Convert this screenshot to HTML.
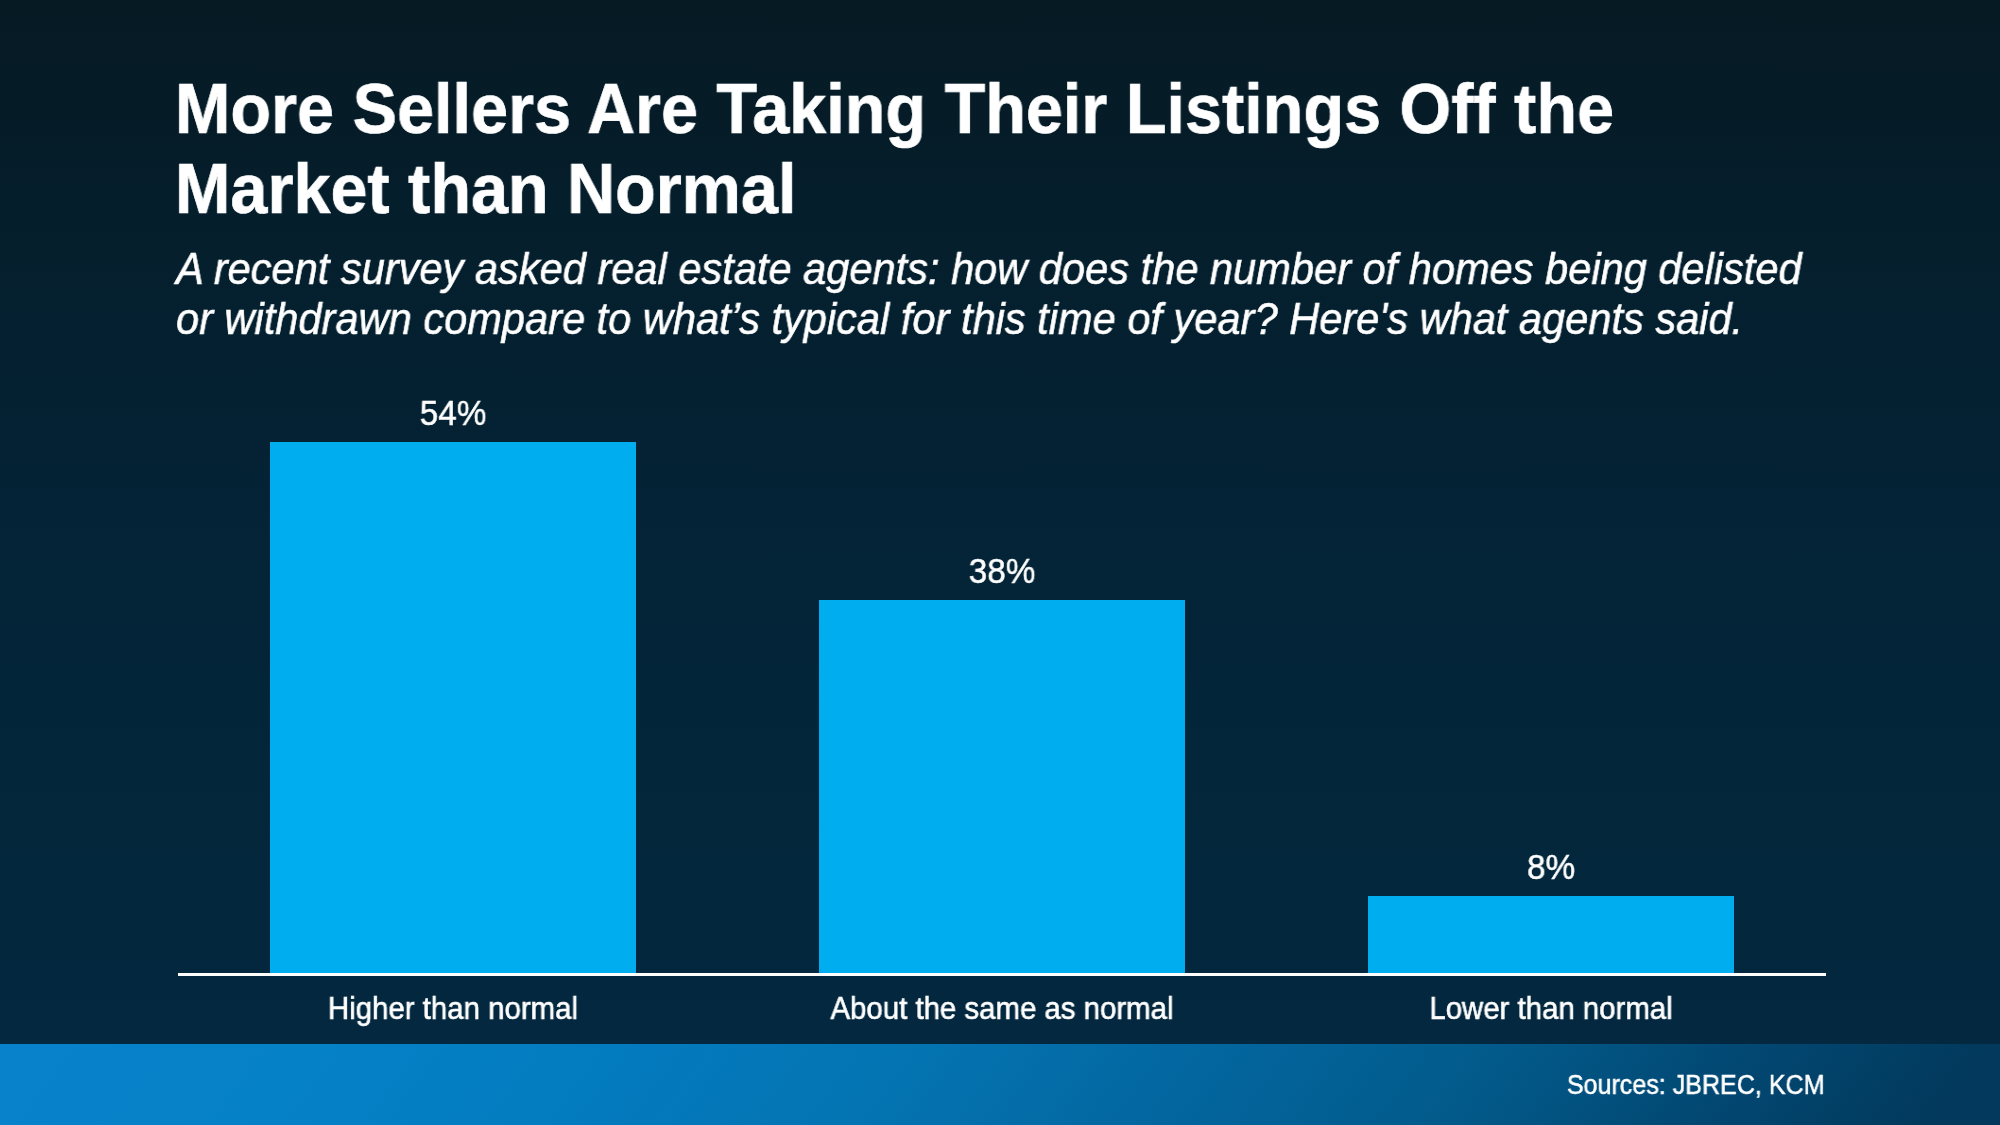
<!DOCTYPE html>
<html>
<head>
<meta charset="utf-8">
<style>
html,body{margin:0;padding:0;}
body{width:2000px;height:1125px;position:relative;overflow:hidden;
  font-family:"Liberation Sans", sans-serif;color:#fff;-webkit-font-smoothing:antialiased;
  background:linear-gradient(180deg,#061a24 10px,#051e2b 200px,#042336 505px,#03263a 765px,#03283f 1030px);}
.t{position:absolute;white-space:nowrap;line-height:1;will-change:transform;}
.title{-webkit-text-stroke:0.7px #fff;left:174.5px;font-weight:bold;font-size:70px;transform:scaleX(0.951);transform-origin:0 0;}
.sub{-webkit-text-stroke:0.6px #fff;left:176px;font-style:italic;font-size:44px;transform:scaleX(0.945);transform-origin:0 0;}
.val{-webkit-text-stroke:0.5px #fff;font-size:35px;text-align:center;width:366px;transform:scaleX(0.95);transform-origin:50% 0;}
.cat{-webkit-text-stroke:0.6px #fff;font-size:30.5px;text-align:center;width:500px;transform:scaleX(0.9635);transform-origin:50% 0;}
.bar{position:absolute;background:#00aeef;}
.axis{position:absolute;left:178px;top:973px;width:1648px;height:3px;background:#fff;}
.footer{position:absolute;left:0;top:1044px;width:2000px;height:81px;
  background:linear-gradient(127deg,#0782cb 1.7%,#0581c7 15.8%,#037bbf 29.9%,#0474b2 44.4%,#03669f 59%,#025a8a 73.2%,#024b77 82.9%,#02395c 96.5%);}
.src{-webkit-text-stroke:0.5px #fff;font-size:26.8px;transform:scaleX(0.935);transform-origin:100% 0;right:175.5px;}
</style>
</head>
<body>
<div class="t title" style="top:73.6px">More Sellers Are Taking Their Listings Off the</div>
<div class="t title" style="top:153.6px">Market than Normal</div>
<div class="t sub" style="top:246.85px">A recent survey asked real estate agents: how does the number of homes being delisted</div>
<div class="t sub" style="top:296.85px">or withdrawn compare to what’s typical for this time of year? Here's what agents said.</div>

<div class="bar" style="left:270px;top:442px;width:366px;height:531px"></div>
<div class="bar" style="left:819px;top:600px;width:366px;height:373px"></div>
<div class="bar" style="left:1368px;top:896px;width:366px;height:77px"></div>
<div class="axis"></div>

<div class="t val" style="left:270px;top:395.3px">54%</div>
<div class="t val" style="left:819px;top:553px">38%</div>
<div class="t val" style="left:1368px;top:849px">8%</div>

<div class="t cat" style="left:203px;top:993.4px">Higher than normal</div>
<div class="t cat" style="left:752px;top:993.4px">About the same as normal</div>
<div class="t cat" style="left:1301px;top:993.4px">Lower than normal</div>

<div class="footer"></div>
<div class="t src" style="top:1071.7px">Sources: JBREC, KCM</div>
</body>
</html>
